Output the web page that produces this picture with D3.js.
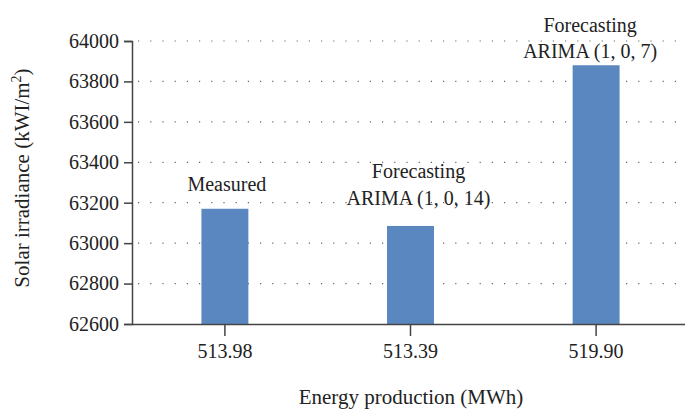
<!DOCTYPE html>
<html lang="en">
<head>
<meta charset="utf-8">
<title>Solar irradiance vs energy production</title>
<script src="https://cdn.jsdelivr.net/npm/d3@7"></script>
<style>
  body { margin: 0; background: #fff; }
  text { font-family: "Liberation Serif", "DejaVu Serif", serif; fill: #222; }
</style>
</head>
<body>
<script>
// data
var energy = ["513.98", "513.39", "519.90"];
var irradiance = [63170, 63085, 63880];
var labels = [["Measured"], ["Forecasting", "ARIMA (1, 0, 14)"], ["Forecasting", "ARIMA (1, 0, 7)"]];
var yTicks = [62600, 62800, 63000, 63200, 63400, 63600, 63800, 64000];

var w = 685, h = 411;
var mLeft = 132, mRight = 689, mTop = 41, mBottom = 324;

var svg = d3.select("body").append("svg").attr("width", w).attr("height", h);

var x = d3.scaleBand().domain(energy).range([mLeft, mRight]).paddingInner(0.747).paddingOuter(0.374);
var y = d3.scaleLinear().domain([62600, 64000]).range([mBottom, mTop]);

// dotted grid
svg.append("g").selectAll("line").data(yTicks.slice(1)).enter().append("line")
  .attr("x1", mLeft + 6).attr("x2", w)
  .attr("y1", function(d){ return y(d); }).attr("y2", function(d){ return y(d); })
  .attr("stroke", "#666").attr("stroke-width", 1.2).attr("stroke-dasharray", "1.2,11");

// bars
svg.append("g").selectAll("rect").data(irradiance).enter().append("rect")
  .attr("x", function(d, i){ return x(energy[i]); })
  .attr("y", function(d){ return y(d); })
  .attr("width", x.bandwidth())
  .attr("height", function(d){ return mBottom - y(d); })
  .attr("fill", "#5b87c1");

// axes
var yAxis = svg.append("g").attr("transform", "translate(" + mLeft + ",0)")
  .call(d3.axisLeft(y).tickValues(yTicks).tickSize(8).tickPadding(5).tickFormat(d3.format("d")));
var xAxis = svg.append("g").attr("transform", "translate(0," + mBottom + ")")
  .call(d3.axisBottom(x).tickSize(12).tickPadding(8).tickSizeOuter(0));
xAxis.select(".domain").attr("d", "M" + mLeft + ",0.5H" + w);

[yAxis, xAxis].forEach(function(a){
  a.select(".domain").attr("stroke", "#444").attr("stroke-width", 1.5);
  a.selectAll(".tick line").attr("stroke", "#444").attr("stroke-width", 1.5);
  a.selectAll(".tick text").style("font-size", "20px").attr("fill", "#222")
    .style("font-family", "'Liberation Serif', serif");
});

// bar annotations (gap above each bar differs a little in the original)
var gap = function(i){ return i === 0 ? 18 : i === 1 ? 21 : 7; };
var shift = function(i){ return i === 0 ? 2 : i === 1 ? 8 : -6; };
var ann = svg.append("g").selectAll("text").data(labels).enter().append("text")
  .attr("text-anchor", "middle")
  .style("font-size", "20px")
  .attr("x", function(d, i){ return x(energy[i]) + x.bandwidth() / 2 + shift(i); })
  .attr("y", function(d, i){ return y(irradiance[i]) - gap(i) - (d.length - 1) * 26.5; });
ann.selectAll("tspan").data(function(d){ return d; }).enter().append("tspan")
  .attr("x", function(){ return d3.select(this.parentNode).attr("x"); })
  .attr("dy", function(d, j){ return j === 0 ? 0 : 26.5; })
  .text(function(d){ return d; });

// axis titles
svg.append("text").attr("x", 411).attr("y", 404).attr("text-anchor", "middle")
  .style("font-size", "21px").text("Energy production (MWh)");
var yt = svg.append("text").attr("transform", "translate(29,178) rotate(-90)")
  .attr("text-anchor", "middle").style("font-size", "21px");
yt.append("tspan").text("Solar irradiance (kWI/m");
yt.append("tspan").attr("dy", -8).style("font-size", "14px").text("2");
yt.append("tspan").attr("dy", 8).text(")");
</script>
</body>
</html>
